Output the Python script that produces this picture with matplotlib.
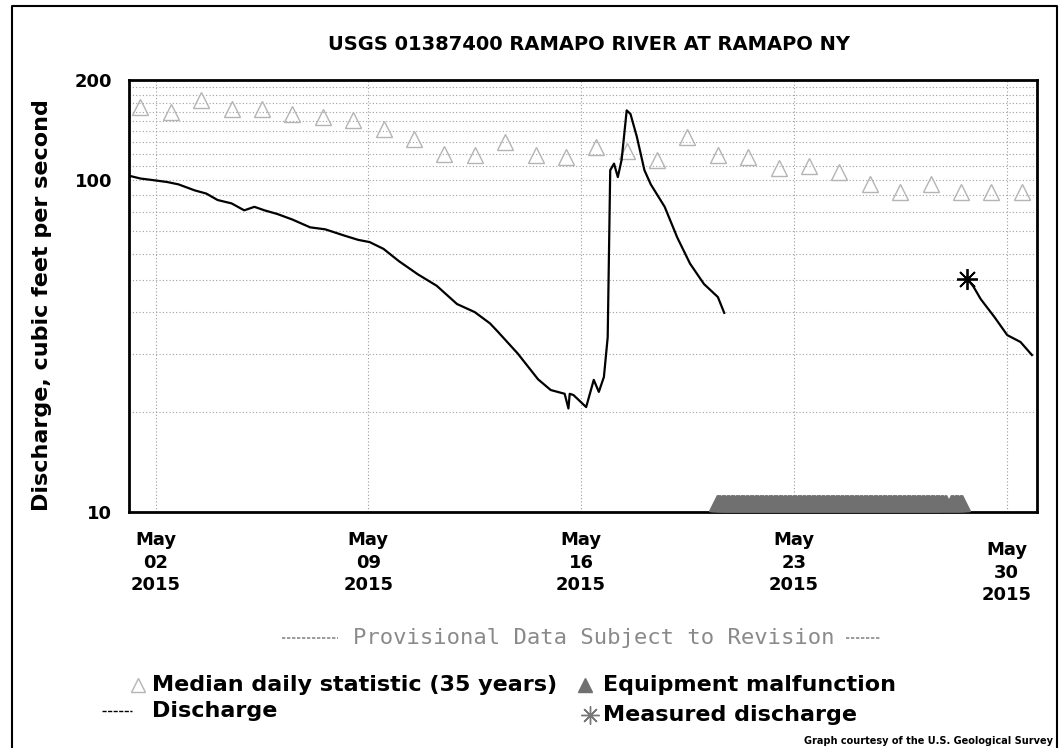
import pandas as pd
import matplotlib.pyplot as plt
from matplotlib.lines import Line2D
from matplotlib.transforms import ScaledTranslation

# Discharge (cfs)
dis_times_a = ['2015-05-01 03:00', '2015-05-01 12:00', '2015-05-01 21:00', '2015-05-02 09:00',
               '2015-05-02 18:00', '2015-05-03 07:00', '2015-05-03 16:00', '2015-05-04 01:00',
               '2015-05-04 12:00', '2015-05-04 22:00', '2015-05-05 06:00', '2015-05-05 14:00',
               '2015-05-06 00:00', '2015-05-06 12:00', '2015-05-07 02:00', '2015-05-07 14:00',
               '2015-05-08 05:00', '2015-05-08 16:00', '2015-05-09 01:00', '2015-05-09 12:00',
               '2015-05-10 00:00', '2015-05-10 15:00', '2015-05-11 06:00', '2015-05-11 22:00',
               '2015-05-12 12:00', '2015-05-13 00:00', '2015-05-13 06:00', '2015-05-13 22:00',
               '2015-05-14 14:00', '2015-05-15 00:00', '2015-05-15 11:00', '2015-05-15 14:00',
               '2015-05-15 15:00', '2015-05-15 18:00', '2015-05-16 00:00', '2015-05-16 04:00',
               '2015-05-16 10:00', '2015-05-16 14:00', '2015-05-16 18:00', '2015-05-16 21:00',
               '2015-05-16 23:00', '2015-05-17 02:00', '2015-05-17 05:00', '2015-05-17 08:00',
               '2015-05-17 12:00', '2015-05-17 15:00', '2015-05-17 20:00', '2015-05-18 02:00',
               '2015-05-18 07:00', '2015-05-18 18:00', '2015-05-19 04:00', '2015-05-19 14:00',
               '2015-05-20 01:00', '2015-05-20 12:00', '2015-05-20 17:00']
dis_vals_a = [103, 101, 100, 98.6,
              97, 93, 91, 87,
              85, 81, 83, 81,
              79, 76, 72, 71,
              68, 66, 65, 62,
              57, 52, 48, 42.3,
              40, 37, 35, 30,
              25.1, 23.3, 22.7, 20.5,
              22.7, 22.5, 21.4, 20.7,
              25, 23, 25.5, 33.6,
              107, 112, 102, 115,
              162, 158, 135, 107,
              97, 83, 67, 56,
              48.6, 44.4, 39.8]

dis_times_b = ['2015-05-28 17:00', '2015-05-28 22:00', '2015-05-29 03:30', '2015-05-29 14:30',
               '2015-05-30 00:30', '2015-05-30 11:00', '2015-05-30 20:00']
dis_vals_b = [50.4, 47.6, 43.8, 38.6, 34.1, 32.5, 29.7]

# median daily statistic (35 years), May 1..30
median_days = pd.date_range('2015-05-01 12:00', periods=30, freq='D')
median_vals = [166, 160, 174, 164, 163, 158, 155, 152, 142, 133,
               120, 119, 130, 119, 117, 126, 122, 115, 135, 119,
               117, 109, 110, 106, 97, 92, 97, 92, 92, 92]

# equipment malfunction periods
malf_periods = [('2015-05-20 11:00', '2015-05-28 00:00'),
                ('2015-05-28 04:00', '2015-05-28 13:00')]

# measured discharge
meas_time = ['2015-05-28 17:00']
meas_val = [50.4]

date_ticks = ['2015-05-02', '2015-05-09', '2015-05-16', '2015-05-23', '2015-05-30']
date_labels = ['May\n02\n2015', 'May\n09\n2015', 'May\n16\n2015', 'May\n23\n2015', 'May\n30\n2015']

plt.rcParams['font.family'] = ['DejaVu Sans']

fig = plt.figure(figsize=(10.61, 7.48), dpi=100)
W, H = 1061, 748
ax = fig.add_axes([129 / W, 1 - 512 / H, 908 / W, 432 / H])
ax.set_yscale('log')

# grid
for d in date_ticks:
    ax.axvline(pd.Timestamp(d), color='#9a9a9a', lw=0.8, ls=(0, (1, 2)), zorder=1)
minor_levels = [20, 30, 40, 50, 60, 70, 80, 90, 100, 110, 120, 130, 140, 150, 160, 170, 180, 190]
for v in minor_levels:
    ax.axhline(v, color='#a0a0a0', lw=0.8, ls=(0, (1, 2)), zorder=1)

ax.plot(median_days, median_vals, ls='none', marker='^', ms=12, mfc='none',
        mec='#b4b4b4', mew=1.0, zorder=2)
ax.plot(pd.to_datetime(dis_times_a), dis_vals_a, color='black', lw=1.6, zorder=3)
ax.plot(pd.to_datetime(dis_times_b), dis_vals_b, color='black', lw=1.6, zorder=3)
ax.plot(pd.to_datetime(meas_time), meas_val, ls='none', marker=(8, 2, 0), ms=15,
        mec='black', mew=1.3, zorder=4)

for start, end in malf_periods:
    t = pd.date_range(start, end, freq='h')
    ax.plot(t, [0.02] * len(t), ls='none', marker='^', ms=12, color='#707070',
            transform=ax.get_xaxis_transform(), clip_on=False, zorder=4)

ax.set_xlim(pd.Timestamp('2015-05-01 03:00'), pd.Timestamp('2015-05-31 00:00'))
ax.set_ylim(10, 200)
ax.set_yticks([10, 100, 200])
ax.set_yticklabels(['10', '100', '200'])
ax.minorticks_off()
ax.set_xticks(pd.to_datetime(date_ticks))
ax.set_xticklabels(date_labels, linespacing=1.3)
ax.tick_params(axis='both', length=0, labelsize=13)
ax.tick_params(axis='x', pad=14)
ax.tick_params(axis='y', pad=12)
for lab in ax.get_xticklabels() + ax.get_yticklabels():
    lab.set_fontweight('bold')
# the last date label sits a little lower in the original
last = ax.get_xticklabels()[-1]
last.set_transform(last.get_transform() + ScaledTranslation(0, -0.1, fig.dpi_scale_trans))
for s in ax.spines.values():
    s.set_linewidth(2.0)

ax.set_ylabel('Discharge, cubic feet per second', fontsize=16, fontweight='bold')
ax.yaxis.set_label_coords(-0.085, 0.48)

fig.text(589 / W, 1 - 45 / H, 'USGS 01387400 RAMAPO RIVER AT RAMAPO NY',
         ha='center', va='center', fontsize=14, fontweight='bold')
fig.text(594 / W, 1 - 638 / H, 'Provisional Data Subject to Revision',
         ha='center', va='center', fontsize=16, color='#8a8a8a', family='DejaVu Sans Mono')
for x0, x1 in [(282, 338), (846, 880)]:
    fig.add_artist(Line2D([x0 / W, x1 / W], [1 - 638 / H] * 2, color='#8a8a8a', lw=1.2,
                          ls=(0, (2, 1))))

# legend drawn by hand, as in the USGS image
fig.add_artist(Line2D([138 / W], [1 - 685 / H], ls='none', marker='^', ms=10, mfc='none',
                      mec='#b4b4b4', mew=1.0))
fig.text(152 / W, 1 - 685 / H, 'Median daily statistic (35 years)', ha='left', va='center',
         fontsize=16, fontweight='bold')
fig.add_artist(Line2D([585 / W], [1 - 685 / H], ls='none', marker='^', ms=10, color='#707070'))
fig.text(603 / W, 1 - 685 / H, 'Equipment malfunction', ha='left', va='center',
         fontsize=16, fontweight='bold')
fig.add_artist(Line2D([102 / W, 132 / W], [1 - 711 / H] * 2, color='black', lw=1.0,
                      ls=(0, (3, 1))))
fig.text(152 / W, 1 - 711 / H, 'Discharge', ha='left', va='center',
         fontsize=16, fontweight='bold')
fig.add_artist(Line2D([590 / W], [1 - 715 / H], ls='none', marker=(8, 2, 0), ms=13,
                      mec='#777777', mew=1.0))
fig.text(603 / W, 1 - 715 / H, 'Measured discharge', ha='left', va='center',
         fontsize=16, fontweight='bold')
fig.text(1053 / W, 1 - 741 / H, 'Graph courtesy of the U.S. Geological Survey',
         ha='right', va='center', fontsize=7, fontweight='bold')

# page border
fig.add_artist(Line2D([12 / W, 12 / W, 1057 / W, 1057 / W], [0, 1 - 6 / H, 1 - 6 / H, 0],
                      color='black', lw=1.5))

fig.savefig('out.png', dpi=100)
